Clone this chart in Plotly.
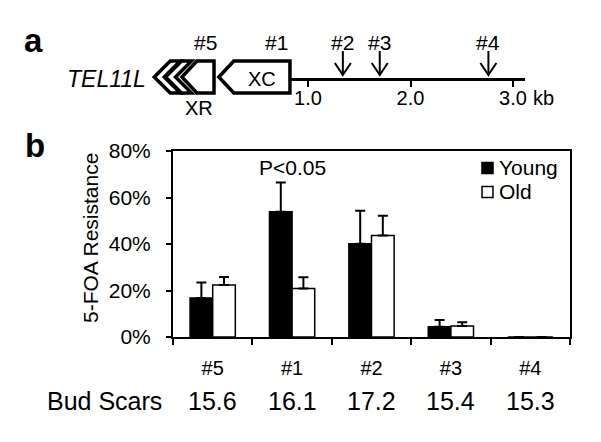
import plotly.graph_objects as go

# ---------------- data ----------------
categories = ["#5", "#1", "#2", "#3", "#4"]
young = [16.8, 53.9, 40.1, 4.4, 0.0]
young_err = [6.6, 12.5, 14.2, 2.9, 0.0]
old = [22.4, 20.9, 43.7, 4.7, 0.0]
old_err = [3.4, 4.8, 8.5, 1.6, 0.0]
bud_scars = ["15.6", "16.1", "17.2", "15.4", "15.3"]
y_ticks = [0, 20, 40, 60, 80]
y_ticktext = ["0%", "20%", "40%", "60%", "80%"]
series_names = ["Young", "Old"]
series_colors = ["black", "white"]

# panel a schematic (kb coordinates)
kb_ticks = [1.0, 2.0, 3.0]
kb_ticktext = ["1.0", "2.0", "3.0"]
site_labels = ["#5", "#1", "#2", "#3", "#4"]
site_kb = [0.0, 0.69, 1.34, 1.70, 2.76]
arrow_sites = [False, False, True, True, True]
gene_names = ["XR", "XC"]
gene_tip_kb = [-0.23, 0.13]
gene_end_kb = [0.083, 0.824]
chevron_tip_kb = [-0.50, -0.39]

# page body has an 8px margin; the figure is sized / positioned to compensate
OFF = 8
W, H = 601 - OFF, 442 - OFF
FONT = "Liberation Sans, Arial, sans-serif"

# kb scale geometry (window pixels)
KB0_PX = 205.5
PX_PER_KB = 102.5
LINE_Y = 78
BOX_TOP, BOX_BOT = 61, 93


def px(x):
    return (x - OFF) / W


def py(y):
    return 1 - (y - OFF) / H


def kx(kb):
    return px(KB0_PX + kb * PX_PER_KB)


def poly(pts, closed=True):
    s = "M " + " L ".join(f"{px(a):.5f},{py(b):.5f}" for a, b in pts)
    return s + (" Z" if closed else "")


def label(text, x, y, size, xref="paper", yref="paper", xanchor="center", **kw):
    return dict(text=text, x=x, y=y, xref=xref, yref=yref, xanchor=xanchor,
                yanchor="middle", showarrow=False, font=dict(size=size), **kw)


fig = go.Figure()

fig.add_trace(go.Bar(
    x=categories, y=young, name="Young",
    marker=dict(color="black", line=dict(color="black", width=1.5)),
    error_y=dict(type="data", array=young_err, arrayminus=[0] * 5, symmetric=False,
                 color="black", thickness=2, width=5),
))
fig.add_trace(go.Bar(
    x=categories, y=old, name="Old",
    marker=dict(color="white", line=dict(color="black", width=1.5)),
    error_y=dict(type="data", array=old_err, arrayminus=[0] * 5, symmetric=False,
                 color="black", thickness=2, width=5),
))

# invisible trace that brings the kb axis to life
fig.add_trace(go.Scatter(
    x=[k for k, a in zip(site_kb, arrow_sites) if a], y=[0, 0, 0],
    xaxis="x2", yaxis="y2", mode="markers", marker=dict(opacity=0),
    showlegend=False, hoverinfo="skip",
))

shapes = []
annotations = []

# chevrons (telomeric repeats)
for t in chevron_tip_kb:
    x0 = KB0_PX + t * PX_PER_KB
    pts = [(x0, 77), (x0 + 16, BOX_TOP), (x0 + 26, BOX_TOP), (x0 + 10, 77),
           (x0 + 26, BOX_BOT), (x0 + 16, BOX_BOT)]
    shapes.append(dict(type="path", xref="paper", yref="paper", path=poly(pts),
                       fillcolor="white", line=dict(color="black", width=3.5)))

# genes (pentagons pointing left)
for name, tip, end in zip(gene_names, gene_tip_kb, gene_end_kb):
    x0 = KB0_PX + tip * PX_PER_KB
    x1 = KB0_PX + end * PX_PER_KB
    pts = [(x0, 77), (x0 + 15, BOX_TOP), (x1, BOX_TOP), (x1, BOX_BOT), (x0 + 15, BOX_BOT)]
    shapes.append(dict(type="path", xref="paper", yref="paper", path=poly(pts),
                       fillcolor="white", line=dict(color="black", width=3.5)))
    if name == "XC":
        annotations.append(label("XC", px((x0 + 15 + x1) / 2), py(79), 20))
    else:
        annotations.append(label("XR", px((x0 + x1) / 2 + 1), py(108), 20))

# site labels and arrows
for lab, k, a in zip(site_labels, site_kb, arrow_sites):
    annotations.append(label(lab, kx(k), py(42), 21))
    if a:
        xc = KB0_PX + k * PX_PER_KB
        shapes.append(dict(type="path", xref="paper", yref="paper",
                           path=poly([(xc, 51), (xc, 75)], closed=False),
                           line=dict(color="black", width=2)))
        shapes.append(dict(type="path", xref="paper", yref="paper",
                           path=poly([(xc - 8, 63), (xc, 75), (xc + 8, 63)], closed=False),
                           line=dict(color="black", width=2)))

# manual legend (tight spacing like the reference)
for i, (nm, col) in enumerate(zip(series_names, series_colors)):
    yc = 168 + 24 * i
    shapes.append(dict(type="rect", xref="paper", yref="paper",
                       x0=px(482), x1=px(493), y0=py(yc + 5.5), y1=py(yc - 5.5),
                       fillcolor=col, line=dict(color="black", width=1.5)))
    annotations.append(label(nm, px(497), py(yc), 21, xanchor="left"))

annotations += [
    label("<i>TEL11L</i>", px(148), py(79), 23, xanchor="right"),
    label("kb", px(531), py(98), 20, xanchor="left"),
    label("<b>a</b>", px(33), py(40), 33),
    label("<b>b</b>", px(35), py(145), 33),
    label("5-FOA Resistance", px(90), py(238), 21, textangle=-90),
    label("P<0.05", "#1", 72.7, 21, xref="x", yref="y"),
    label("Bud Scars", px(164), py(401), 25, xanchor="right"),
]
for c, b in zip(categories, bud_scars):
    annotations.append(label(b, c, py(401), 25, xref="x"))

fig.update_layout(
    width=W, height=H,
    margin=dict(l=0, r=0, t=0, b=0, autoexpand=False),
    paper_bgcolor="white", plot_bgcolor="white",
    font=dict(family=FONT, color="black", size=20),
    barmode="group", bargap=0.43, bargroupgap=0,
    showlegend=False,
    xaxis=dict(domain=[px(173), px(570)], type="category",
               showline=True, linecolor="black", linewidth=2, mirror=True,
               ticks="outside", ticklen=6, tickwidth=2, tickcolor="black",
               tickson="boundaries", showgrid=False,
               tickfont=dict(size=20), ticklabelstandoff=12, fixedrange=True),
    yaxis=dict(domain=[py(337), py(151)], range=[0, 80], tickvals=y_ticks,
               ticktext=y_ticktext, showline=True, linecolor="black", linewidth=2,
               mirror=True, ticks="outside", ticklen=5, tickwidth=2,
               tickcolor="black", showgrid=False, zeroline=False,
               tickfont=dict(size=21), ticklabelstandoff=11, fixedrange=True),
    xaxis2=dict(domain=[px(290), px(525)], range=[(290 - KB0_PX) / PX_PER_KB,
                                                  (525 - KB0_PX) / PX_PER_KB],
                anchor="y2", showline=True, linecolor="black", linewidth=3,
                ticks="outside", ticklen=6, tickwidth=2, tickcolor="black",
                tickvals=kb_ticks, ticktext=kb_ticktext, showgrid=False,
                zeroline=False, tickfont=dict(size=20), ticklabelstandoff=-6,
                fixedrange=True),
    yaxis2=dict(domain=[py(LINE_Y), py(60)], range=[0, 1], visible=False,
                fixedrange=True),
    shapes=shapes,
    annotations=annotations,
)

fig.write_html("out.html")
